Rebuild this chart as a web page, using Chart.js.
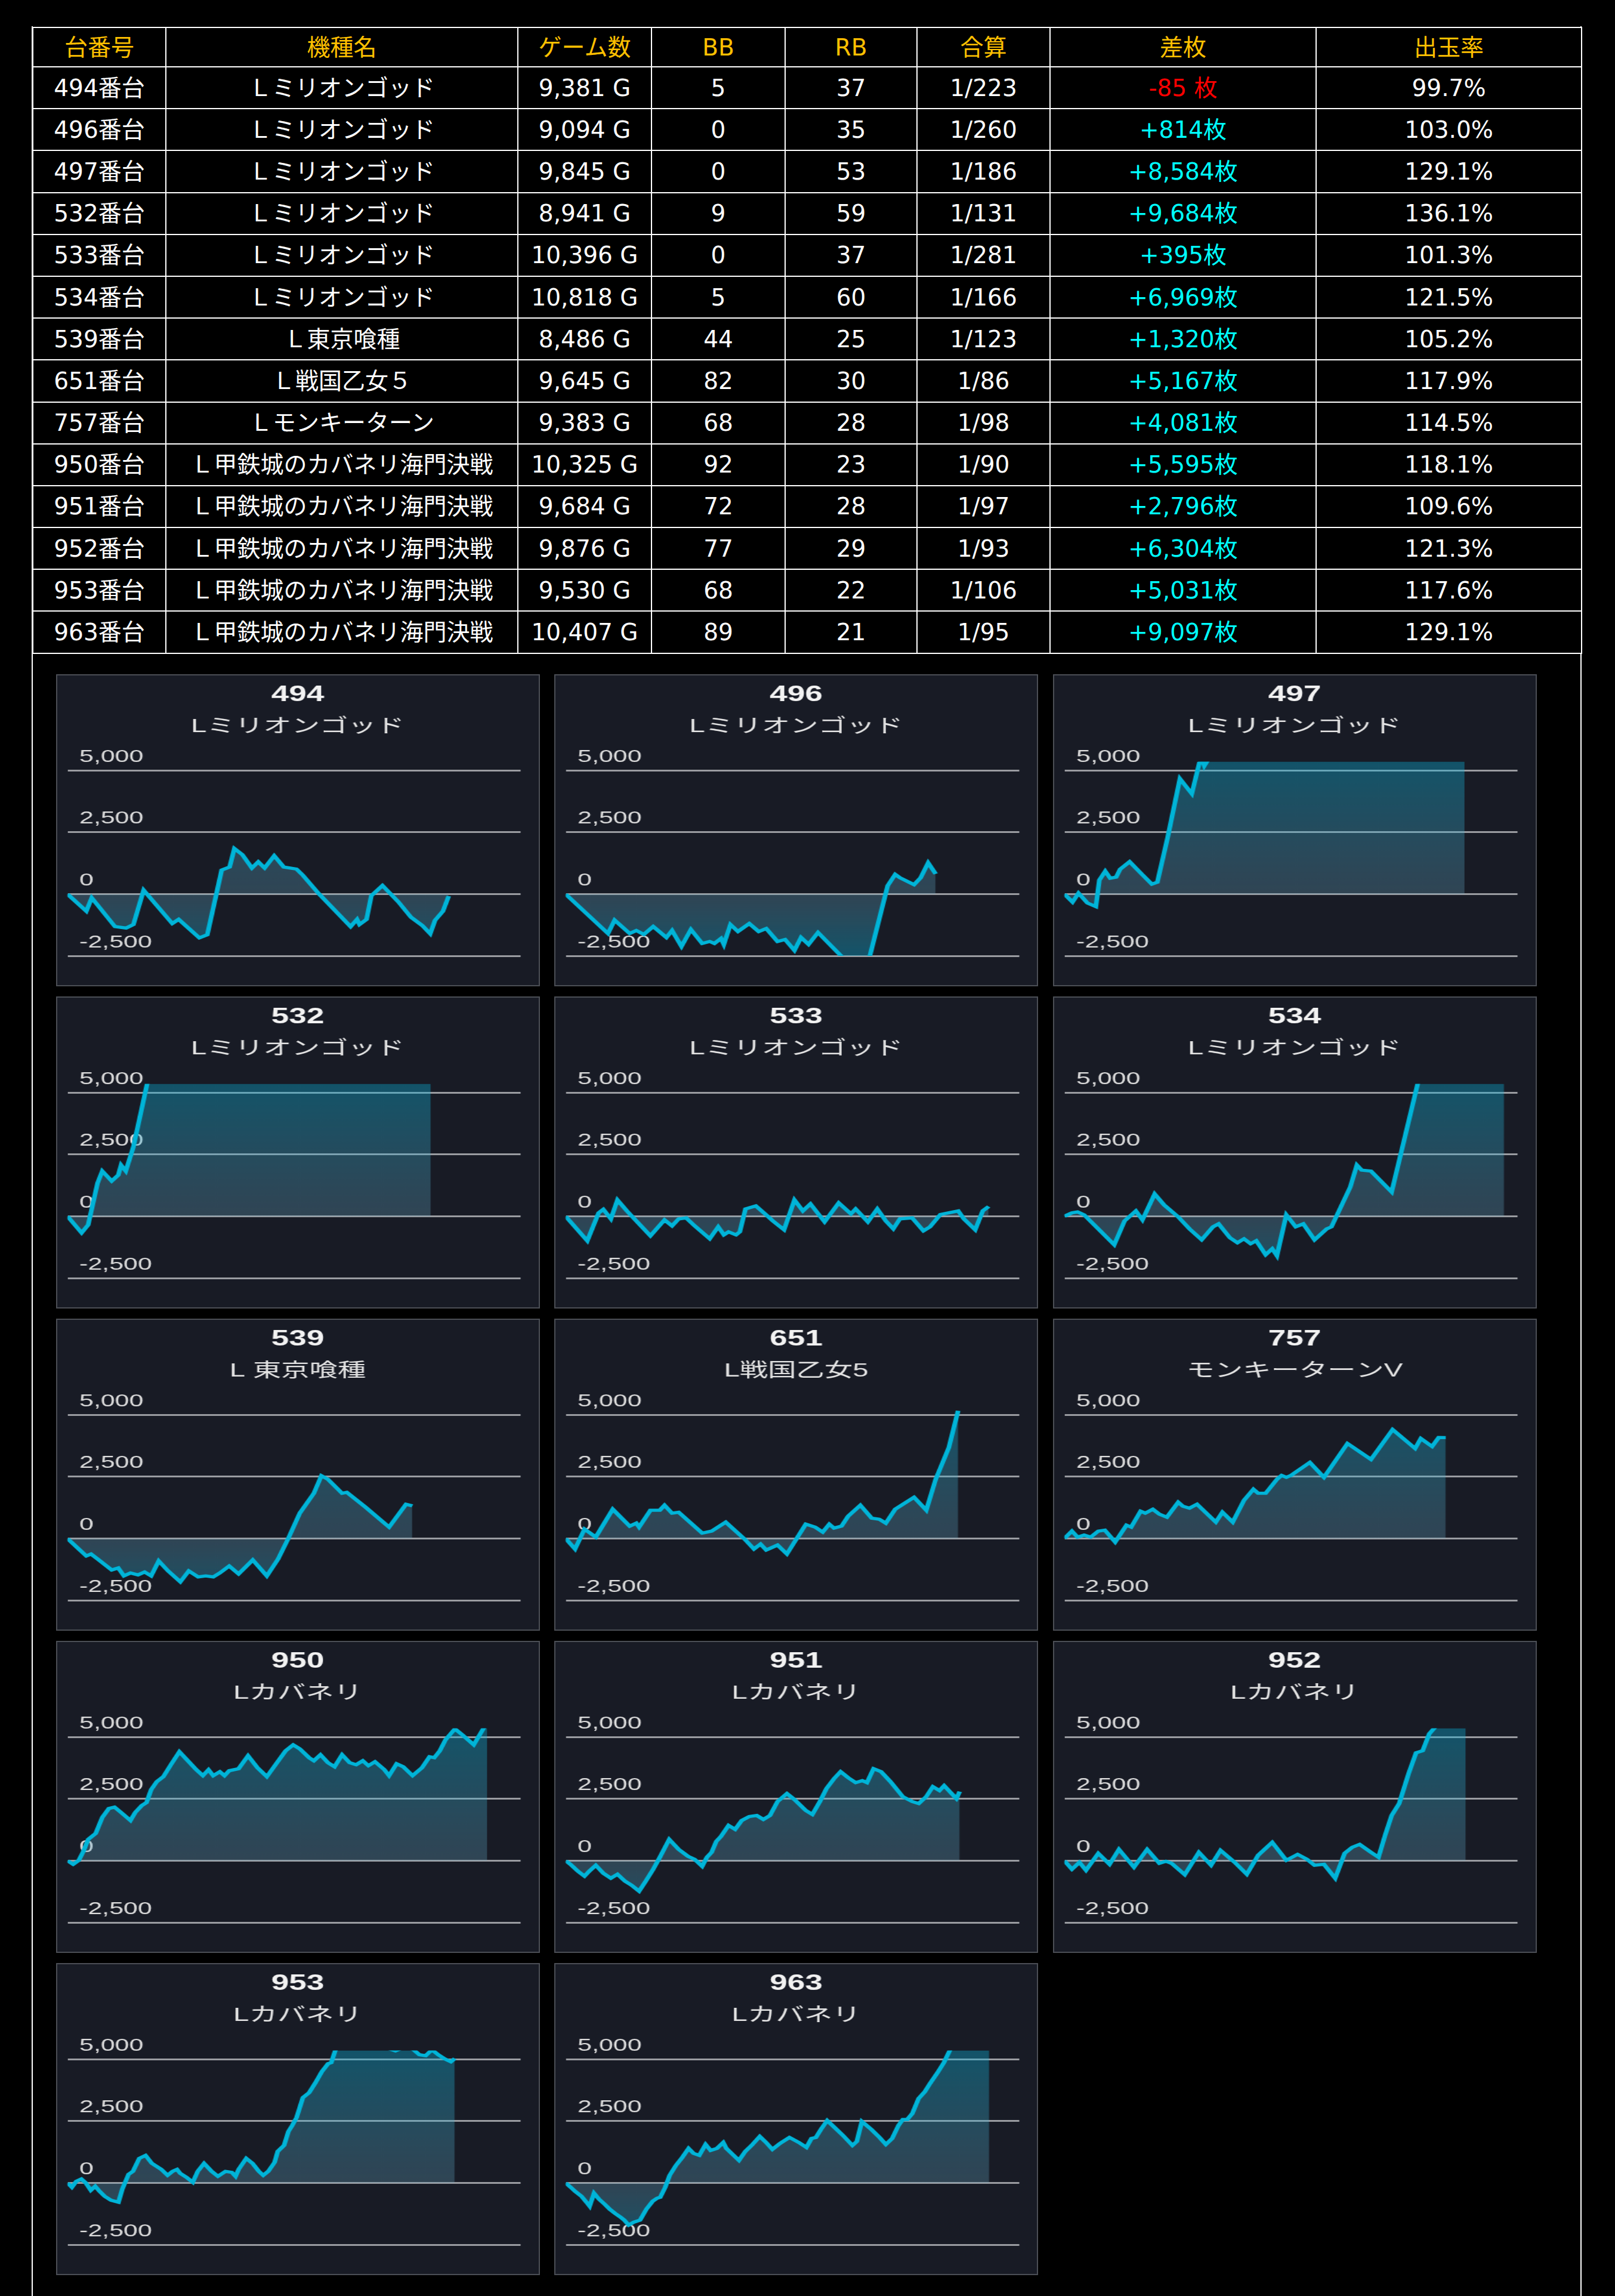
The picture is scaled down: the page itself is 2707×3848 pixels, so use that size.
<!DOCTYPE html>
<html>
<head>
<meta charset="utf-8">
<script src="https://cdn.jsdelivr.net/npm/chart.js@4.4.1/dist/chart.umd.min.js"></script>
<style>
html,body{margin:0;padding:0;background:#000;width:2707px;height:3848px;overflow:hidden;}
#frame{position:absolute;left:53px;top:44px;width:2598px;height:3900px;box-sizing:border-box;border-left:2px solid #fff;border-right:2px solid #fff;}
#tbl{position:absolute;left:54px;top:45px;width:2596px;border-collapse:collapse;table-layout:fixed;
  font-family:"DejaVu Sans","Noto Sans CJK JP",sans-serif;font-size:39px;color:#fff;background:#000;}
#tbl td,#tbl th{border:2px solid #fff;padding:0;text-align:center;vertical-align:middle;font-weight:normal;white-space:nowrap;overflow:hidden;line-height:1;}
#tbl th{color:#ffc000;}
#tbl tr.h{height:66px;}
#tbl tr.r{height:70.2px;}
.pos{color:#00ffff;}
.neg{color:#ff0000;}
.panel{position:absolute;width:811px;height:523px;box-sizing:border-box;border:2px solid #4b4e55;background:#181b25;}
.panel canvas{position:absolute;left:0;top:0;}
</style>
</head>
<body>
<div id="frame"></div>
<table id="tbl"></table>
<div id="charts"></div>
<script>
// ---------- table data ----------
const headers = ['台番号','機種名','ゲーム数','BB','RB','合算','差枚','出玉率'];
const colWidths = [223,590,224,224,221,223,446,445];
const unitLabels = ['494番台','496番台','497番台','532番台','533番台','534番台','539番台','651番台','757番台','950番台','951番台','952番台','953番台','963番台'];
const machineNames = ['Ｌミリオンゴッド','Ｌミリオンゴッド','Ｌミリオンゴッド','Ｌミリオンゴッド','Ｌミリオンゴッド','Ｌミリオンゴッド','Ｌ東京喰種','Ｌ戦国乙女５','Ｌモンキーターン','Ｌ甲鉄城のカバネリ海門決戦','Ｌ甲鉄城のカバネリ海門決戦','Ｌ甲鉄城のカバネリ海門決戦','Ｌ甲鉄城のカバネリ海門決戦','Ｌ甲鉄城のカバネリ海門決戦'];
const gameCounts = ['9,381 G','9,094 G','9,845 G','8,941 G','10,396 G','10,818 G','8,486 G','9,645 G','9,383 G','10,325 G','9,684 G','9,876 G','9,530 G','10,407 G'];
const bbCounts = [5,0,0,9,0,5,44,82,68,92,72,77,68,89];
const rbCounts = [37,35,53,59,37,60,25,30,28,23,28,29,22,21];
const combined = ['1/223','1/260','1/186','1/131','1/281','1/166','1/123','1/86','1/98','1/90','1/97','1/93','1/106','1/95'];
const diffCoins = ['-85 枚','+814枚','+8,584枚','+9,684枚','+395枚','+6,969枚','+1,320枚','+5,167枚','+4,081枚','+5,595枚','+2,796枚','+6,304枚','+5,031枚','+9,097枚'];
const payoutRates = ['99.7%','103.0%','129.1%','136.1%','101.3%','121.5%','105.2%','117.9%','114.5%','118.1%','109.6%','121.3%','117.6%','129.1%'];

// ---------- chart data (x = games, y = coin difference) ----------
const panelNos = ['494','496','497','532','533','534','539','651','757','950','951','952','953','963'];
const panelNames = ['Lミリオンゴッド','Lミリオンゴッド','Lミリオンゴッド','Lミリオンゴッド','Lミリオンゴッド','Lミリオンゴッド','L 東京喰種','L戦国乙女5','モンキーターンV','Lカバネリ','Lカバネリ','Lカバネリ','Lカバネリ','Lカバネリ'];
const yTicks = [-2500, 0, 2500, 5000];

const g494 = [0,464,597,1169,1443,1623,1874,2579,2736,3245,3441,3794,3990,4107,4303,4538,4695,4851,5087,5322,5635,5792,6184,6967,7125,7186,7359,7477,7751,8143,8456,8731,8926,9044,9240,9381];
const v494 = [0,-690,-152,-1315,-1373,-1231,157,-1190,-1023,-1771,-1646,970,1095,1843,1595,1054,1303,1054,1552,1095,1013,763,15,-1315,-1023,-1231,-1023,-68,347,-316,-941,-1272,-1605,-1064,-690,-85];

const g496 = [0,1041,1203,1574,1736,1921,2152,2476,2615,2846,3078,3355,3540,3656,3818,3888,4050,4235,4512,4744,4929,5207,5392,5623,5785,5970,6202,6780,7150,7474,7914,8099,8215,8562,8724,8909,9094];
const v496 = [0,-1595,-1055,-1595,-1474,-1635,-1313,-1756,-1474,-2119,-1434,-1998,-1917,-1998,-1796,-2038,-1233,-1515,-1192,-1515,-1394,-1917,-1837,-2280,-1756,-2038,-1555,-2520,-2900,-2520,338,798,660,379,660,1265,814];

const g497 = [0,200,347,566,775,859,1005,1127,1273,1371,1605,1906,2151,2287,2541,2843,3135,3321,3394,3443,3540,4000,5000,6000,7000,8000,9000,9845];
const v497 = [0,-323,39,-362,-507,562,924,642,683,1004,1310,804,401,482,2292,4664,4061,5309,5420,5190,5450,6200,6900,7300,7900,8200,8400,8584];

const g532 = [0,347,509,740,856,1088,1250,1319,1435,1620,1967,2500,4000,5500,7000,8000,8941];
const v532 = [0,-669,-346,1345,1829,1426,1668,2070,1829,2795,5414,6500,7800,8500,9000,9300,9684];

const g533 = [0,532,810,926,1111,1273,1504,1782,2083,2430,2615,2777,2962,3170,3540,3749,3888,4003,4188,4281,4420,4674,4929,5091,5368,5623,5831,6016,6364,6711,7011,7127,7428,7659,7868,8053,8215,8516,8793,8955,9210,9649,9788,10066,10251,10396];
const v533 = [0,-991,137,282,-105,661,218,-266,-789,-145,-387,-105,-64,-387,-910,-427,-749,-628,-749,-628,298,419,56,-185,-548,661,218,499,-226,540,97,298,-226,298,-185,-508,-105,-64,-588,-427,73,218,-105,-548,218,395];

const g534 = [0,185,324,486,833,1226,1481,1759,1921,2221,2453,2800,3078,3378,3656,3795,4073,4258,4420,4582,4721,4952,5114,5230,5461,5692,5878,6155,6456,6572,7035,7197,7313,7544,8053,8701,9200,10000,10818];
const v534 = [0,137,177,56,-508,-1152,-185,218,-145,902,459,-24,-508,-951,-427,-306,-870,-1071,-910,-1112,-991,-1555,-1313,-1595,56,-427,-306,-951,-508,-427,1184,2070,1869,1829,983,5414,6000,6600,6969];

const g539 = [0,278,463,579,740,1088,1250,1388,1550,1736,1897,2059,2245,2476,2777,2985,3216,3402,3587,3749,3980,4211,4559,4906,5183,5438,5716,6063,6248,6410,6757,6873,7335,7914,8330,8486];
const v539 = [0,-427,-709,-628,-830,-1273,-1192,-1515,-1394,-1474,-1353,-1515,-910,-1313,-1756,-1313,-1555,-1515,-1555,-1394,-1112,-1434,-870,-1515,-830,16,1023,1829,2538,2393,1829,1869,1265,459,1386,1320];

const g651 = [0,231,463,740,1157,1574,1736,1805,2083,2314,2430,2615,2777,3355,3587,3934,4397,4628,4790,4929,5207,5438,5901,6132,6317,6479,6595,6780,6942,7243,7521,7706,7868,8099,8562,8863,9094,9418,9645];
const v651 = [0,-427,379,56,1184,499,620,459,1144,1144,1345,1023,1063,218,298,661,-24,-427,-226,-467,-266,-628,580,459,258,580,419,499,902,1345,822,781,620,1184,1668,1144,2393,3682,5167];

const g757 = [0,185,324,486,648,833,995,1250,1527,1643,1874,1990,2175,2337,2522,2800,2916,3078,3263,3494,3726,3888,4142,4420,4651,4767,4952,5230,5345,5461,5577,6040,6387,6965,7544,8076,8631,8770,9048,9210,9383];
const v757 = [0,298,56,137,56,298,338,-145,540,459,1104,1023,1184,983,862,1466,1305,1225,1386,1023,661,1063,661,1547,1990,1829,1829,2393,2554,2473,2554,3077,2473,3843,3198,4407,3641,4044,3722,4084,4081];

const g950 = [0,139,278,393,509,694,856,1018,1157,1319,1550,1666,1828,1944,2059,2198,2360,2545,2754,2939,3170,3332,3471,3587,3749,3864,3980,4211,4443,4674,4906,5137,5368,5554,5716,5947,6063,6225,6410,6572,6757,6942,7104,7266,7405,7567,7798,7914,8099,8261,8492,8724,8909,9025,9163,9302,9534,9719,9997,10325];
const v950 = [0,-145,16,379,862,1104,1748,2111,2167,1950,1627,1950,2232,2352,2876,3198,3400,3883,4407,4084,3682,3440,3682,3440,3601,3440,3641,3722,4245,3762,3400,3923,4447,4689,4527,4165,4044,4286,3964,3802,4286,3964,3883,4044,3843,4004,3682,3440,3923,3802,3440,3762,4205,4165,4447,4890,5333,5091,4689,5595];

const g951 = [0,116,301,463,579,740,926,1111,1273,1458,1620,1805,1967,2152,2314,2545,2777,3008,3170,3355,3471,3587,3702,3818,4003,4165,4327,4512,4697,4859,5021,5207,5438,5623,5901,6063,6248,6410,6595,6757,6942,7127,7289,7405,7567,7752,7983,8284,8516,8678,8863,9025,9187,9302,9487,9603,9684];
const v951 = [0,-145,-427,-628,-427,-185,-508,-709,-548,-830,-991,-1233,-830,-346,137,862,459,177,56,-226,137,338,781,983,1426,1265,1627,1788,1829,1668,1829,2393,2715,2473,2030,1869,2393,2916,3319,3601,3359,3158,3238,3158,3722,3601,3198,2594,2393,2312,2594,2997,2836,3037,2715,2514,2796];

const g952 = [0,185,370,532,833,1111,1342,1712,2036,2337,2499,2638,2962,3309,3610,3841,4188,4489,4767,5114,5461,5739,5970,6155,6387,6664,6896,7081,7266,7544,7729,7891,8053,8238,8469,8654,8816,8978,9117,9500,9876];
const v952 = [0,-346,-64,-387,298,-145,459,-266,459,-105,-24,-105,-564,338,-185,419,-64,-548,218,741,16,258,56,-185,-145,-709,298,540,661,338,137,1023,1829,2312,3520,4366,4447,5132,5390,5900,6304];

const g953 = [0,108,217,341,449,573,682,790,914,1069,1255,1348,1503,1611,1766,1921,2076,2308,2463,2587,2695,2773,2928,3083,3206,3361,3547,3702,3888,4043,4136,4213,4399,4554,4709,4817,4941,5096,5174,5329,5437,5530,5638,5793,5948,6103,6258,6413,6490,6599,7000,7600,8070,8300,8504,8659,8814,8969,9124,9279,9434,9530];
const v953 = [0,-177,65,161,0,-298,-137,-339,-540,-702,-782,-258,347,468,992,1113,790,548,306,468,548,387,226,24,468,790,468,266,468,427,266,548,992,790,468,306,468,831,1274,1516,2081,2323,2645,3452,3653,4057,4500,4823,4863,5404,5700,5600,5340,5500,5404,5186,5145,5387,5186,5024,4903,5031];

const g963 = [0,124,232,387,511,589,697,821,960,1084,1208,1348,1441,1549,1673,1828,1983,2138,2246,2324,2447,2556,2711,2866,3021,3144,3284,3439,3563,3718,3873,3950,4105,4260,4415,4570,4771,4926,5081,5267,5499,5731,5917,6041,6150,6273,6428,6583,6816,7048,7156,7280,7513,7714,7869,8024,8179,8287,8396,8520,8674,8829,8953,9139,9294,9449,10000,10407];
const v963 = [0,-177,-339,-540,-782,-944,-419,-661,-863,-1065,-1226,-1387,-1508,-1710,-1589,-1508,-1065,-742,-621,-581,-177,306,710,1032,1395,1194,1113,1557,1315,1395,1637,1395,1153,911,1274,1516,1879,1637,1355,1597,1839,1637,1436,1798,1839,2161,2524,2282,1919,1516,1677,2484,2161,1839,1557,1798,2323,2565,2565,2807,3411,3694,4016,4460,4863,5387,8000,9097];

const seriesX = [g494,g496,g497,g532,g533,g534,g539,g651,g757,g950,g951,g952,g953,g963];
const seriesY = [v494,v496,v497,v532,v533,v534,v539,v651,v757,v950,v951,v952,v953,v963];

// ---------- build table ----------
(function buildTable(){
  const t = document.getElementById('tbl');
  const cg = document.createElement('colgroup');
  colWidths.forEach(w => { const c = document.createElement('col'); c.style.width = w + 'px'; cg.appendChild(c); });
  t.appendChild(cg);
  const hr = document.createElement('tr'); hr.className = 'h';
  headers.forEach(h => { const th = document.createElement('th'); th.textContent = h; hr.appendChild(th); });
  t.appendChild(hr);
  for (let i = 0; i < unitLabels.length; i++) {
    const tr = document.createElement('tr'); tr.className = 'r';
    const cells = [unitLabels[i], machineNames[i], gameCounts[i], String(bbCounts[i]), String(rbCounts[i]), combined[i], diffCoins[i], payoutRates[i]];
    cells.forEach((txt, j) => {
      const td = document.createElement('td'); td.textContent = txt;
      if (j === 6) td.className = txt.trim().startsWith('-') ? 'neg' : 'pos';
      tr.appendChild(td);
    });
    t.appendChild(tr);
  }
})();

// ---------- build charts ----------
const XMAX = 11150;
const SX = 1.4807;               // horizontal stretch of the canvas
const CW = 545, CH = 519;        // internal canvas size
const colLeft = [93.5, 929, 1764.5];
const rowTop = [1129.5, 1669.5, 2209.5, 2749.5, 3289.5];
const FONT = "'Liberation Sans', Arial, sans-serif";
const FONT_JP = "'Liberation Sans', 'Noto Sans CJK JP', sans-serif";

function fillGradient(ctx) {
  const chart = ctx.chart;
  const area = chart.chartArea;
  if (!area) return 'rgba(20,170,210,0.33)';
  const y0 = chart.scales.y.getPixelForValue(0);
  const t = Math.min(1, Math.max(0, (y0 - area.top) / (area.bottom - area.top)));
  const g = chart.ctx.createLinearGradient(0, area.top, 0, area.bottom);
  g.addColorStop(0, 'rgba(10,178,218,0.38)');
  g.addColorStop(t, 'rgba(110,172,200,0.29)');
  g.addColorStop(1, 'rgba(10,178,218,0.38)');
  return g;
}

const host = document.getElementById('charts');
panelNos.forEach((no, i) => {
  const panel = document.createElement('div');
  panel.className = 'panel';
  panel.style.left = colLeft[i % 3] + 'px';
  panel.style.top = rowTop[Math.floor(i / 3)] + 'px';
  const cv = document.createElement('canvas');
  cv.width = CW; cv.height = CH;
  cv.style.width = (CW * SX) + 'px';
  cv.style.height = CH + 'px';
  panel.appendChild(cv);
  host.appendChild(panel);

  const xs = seriesX[i], ys = seriesY[i];
  new Chart(cv, {
    type: 'line',
    data: {
      datasets: [{
        data: xs.map((x, k) => ({ x: x, y: ys[k] })),
        borderColor: '#00b4d8',
        borderWidth: 5.3,
        borderJoinStyle: 'miter',
        pointRadius: 0,
        pointHoverRadius: 0,
        tension: 0,
        fill: 'origin',
        backgroundColor: fillGradient
      }]
    },
    options: {
      responsive: false,
      animation: false,
      devicePixelRatio: 1,
      locale: 'en-US',
      events: [],
      layout: { padding: { left: 11.55, right: 11.55, top: 0, bottom: 49 } },
      plugins: {
        legend: { display: false },
        tooltip: { enabled: false },
        title: { display: true, text: no, color: '#f2f2f2', font: { family: FONT, size: 36, weight: 'bold', lineHeight: 1.2 }, padding: { top: 11.4, bottom: 0 } },
        subtitle: { display: true, text: panelNames[i], color: '#e4e4e4', font: { family: FONT_JP, size: 32, weight: 'normal', lineHeight: 1.2 }, padding: { top: 12, bottom: 39.4 } }
      },
      scales: {
        x: { type: 'linear', min: 0, max: XMAX, display: false },
        y: {
          type: 'linear', position: 'left', min: -2500, max: 5360,
          afterFit: s => { s.width = 0; },
          afterBuildTicks: s => { s.ticks = yTicks.map(v => ({ value: v })); },
          grid: { color: '#9a9ca1', lineWidth: 3, drawTicks: false },
          border: { display: false },
          ticks: { mirror: true, padding: 13.5, labelOffset: -22.5, color: '#dedede', font: { family: FONT, size: 29 } }
        },
        pad: {
          type: 'linear', position: 'right', display: true,
          afterFit: s => { s.width = 8.35; },
          grid: { display: false }, border: { display: false }, ticks: { display: false }
        }
      }
    }
  });
});
</script>
</body>
</html>
